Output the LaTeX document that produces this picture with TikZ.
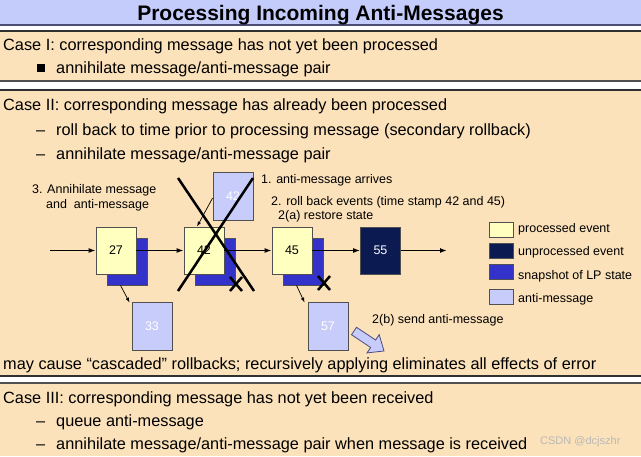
\documentclass[tikz,border=0pt]{standalone}
\usepackage{fontspec}
\setmainfont{Liberation Sans}
\usetikzlibrary{arrows.meta,calc}
\definecolor{titleblue}{HTML}{C4CCFC}
\definecolor{peach}{HTML}{FCE2BA}
\definecolor{procy}{HTML}{FFFFC0}
\definecolor{snapb}{HTML}{3333CC}
\definecolor{unprocn}{HTML}{0C1A52}
\definecolor{antil}{HTML}{C8CCFA}
\definecolor{edge}{HTML}{505050}
\definecolor{rule}{HTML}{303030}
\definecolor{wmark}{HTML}{B8B8B8}
\begin{document}
\begin{tikzpicture}[x=1pt,y=-1pt,
  body/.style={anchor=base west,inner sep=0pt,font=\fontsize{16.3}{19}\selectfont},
  lbl/.style={anchor=base west,inner sep=0pt,font=\fontsize{12.5}{15}\selectfont},
  evbox/.style={draw=edge,line width=0.8pt,minimum width=40pt,minimum height=47pt,inner sep=0pt,font=\fontsize{12.5}{15}\selectfont},
  processed/.style={evbox,fill=procy},
  snapshot/.style={evbox,fill=snapb},
  unprocessed/.style={evbox,fill=unprocn,text=white},
  antimsg/.style={evbox,fill=antil,text=white,minimum height=48pt},
  flow/.style={line width=1.4pt,-{Latex[length=7pt,width=5pt]}},
  thinarrow/.style={line width=0.7pt,-{Latex[length=5pt,width=3.5pt]}},
  xline/.style={line width=2.5pt},
  legbox/.style={draw=edge,line width=0.8pt,minimum width=24pt,minimum height=15pt,inner sep=0pt},
  bandrule/.style={draw=rule,line width=1.1pt},
]
\useasboundingbox (0,0) rectangle (641,456);
% backgrounds
\fill[white] (0,0) rectangle (641,456);
\fill[titleblue] (0,0) rectangle (641,25);
\draw[bandrule,draw=black!60!blue!40!gray] (0,25) -- (641,25);
\fill[peach] (0,31) rectangle (641,81);
\draw[bandrule] (0,31) -- (641,31);
\draw[bandrule,draw=edge] (0,81) -- (641,81);
\fill[peach] (0,90) rectangle (641,376);
\draw[bandrule] (0,90) -- (641,90);
\draw[bandrule] (0,376) -- (641,376);
\fill[peach] (0,383) rectangle (641,456);
\draw[bandrule,draw=edge] (0,383) -- (641,383);

% title
\node[anchor=base,inner sep=0pt,font=\fontsize{21}{24}\selectfont\bfseries] (title) at (320.5,20) {Processing Incoming Anti-Messages};

% Case I
\node[body] (c1) at (3,50) {Case I: corresponding message has not yet been processed};
\node[fill=black,minimum width=8pt,minimum height=8pt,inner sep=0pt] (bul1) at (41,67.5) {};
\node[body] (c1a) at (56,73) {annihilate message/anti-message pair};

% Case II
\node[body] (c2) at (3,110) {Case II: corresponding message has already been processed};
\node[body] (d2a) at (36,135) {–};
\node[body] (c2a) at (56,135) {roll back to time prior to processing message (secondary rollback)};
\node[body] (d2b) at (36,159) {–};
\node[body] (c2b) at (56,159) {annihilate message/anti-message pair};
\node[body] (casc) at (3,369.5) {may cause “cascaded” rollbacks; recursively applying eliminates all effects of error};

% Case III
\node[body] (c3) at (3,403.5) {Case III: corresponding message has not yet been received};
\node[body] (d3a) at (36,426.5) {–};
\node[body] (c3a) at (56,426.5) {queue anti-message};
\node[body] (d3b) at (36,449.5) {–};
\node[body] (c3b) at (56,449.5) {annihilate message/anti-message pair when message is received};
\node[anchor=base west,inner sep=0pt,text=wmark,font=\fontsize{11}{13}\selectfont] (wm) at (540,444) {CSDN @dcjszhr};

% diagram: snapshots
\node[snapshot] (s27) at (127.5,261.5) {};
\node[snapshot] (s42) at (215.5,261.5) {};
\node[snapshot] (s45) at (303.5,261.5) {};
% events
\node[processed] (p27) at (116,250.5) {27};
\node[processed] (p42) at (204,250.5) {42};
\node[processed] (p45) at (292,250.5) {45};
\node[unprocessed] (u55) at (380.5,250.5) {55};
% anti-messages
\node[antimsg] (a42) at (233,196) {42};
\node[antimsg] (a33) at (152,326) {33};
\node[antimsg] (a57) at (328,326) {57};

% flow arrows
\coordinate (in) at (50,250.5);
\coordinate (out) at (447,250.5);
\draw[flow] (in) -- (p27.west);
\draw[flow] (p27.east) -- (p42.west);
\draw[flow] (p42.east) -- (p45.west);
\draw[flow] (p45.east) -- (u55.west);
\draw[flow] (u55.east) -- (out);
\draw[thinarrow] ([yshift=-2pt]a42.west) -- ([xshift=-7pt]p42.north);
\draw[thinarrow] ([xshift=-7pt]s27.south) -- ([xshift=-2pt,yshift=-1pt]a33.north west);
\draw[thinarrow] ([xshift=-7pt]s45.south) -- ([xshift=-3pt,yshift=-1pt]a57.north west);

% crosses
\draw[xline] (178,178) -- (254,291);
\draw[xline] (253,178) -- (178,291);
\draw[xline] (230,277) -- (242,291);
\draw[xline] (242,277) -- (230,291);
\draw[xline] (318,276) -- (330,290);
\draw[xline] (330,276) -- (318,290);

% block arrow
\draw[fill=antil,draw=black!50!blue!40!gray,line width=0.8pt]
  (356.5,327.3) -- (375.6,340.0) -- (379.2,334.6) -- (384,351) -- (367,352.9) -- (370.6,347.5) -- (351.5,334.7) -- cycle;

% labels
\node[lbl] (l1) at (261,183.5) {1. anti-message arrives};
\node[lbl] (l2) at (271,205) {2. roll back events (time stamp 42 and 45)};
\node[lbl] (l2a) at (278,219.5) {2(a) restore state};
\node[lbl] (l3a) at (32,193.5) {3. Annihilate message};
\node[lbl] (l3b) at (46,208.5) {and\ \ anti-message};
\node[lbl] (l2b) at (372,323.5) {2(b) send anti-message};

% legend
\node[legbox,fill=procy] (k1) at (501,229.5) {};
\node[legbox,fill=unprocn] (k2) at (501,250.5) {};
\node[legbox,fill=snapb] (k3) at (501,272) {};
\node[legbox,fill=antil] (k4) at (501,296.5) {};
\node[lbl] (t1) at (518,232.5) {processed event};
\node[lbl] (t2) at (518,255.5) {unprocessed event};
\node[lbl] (t3) at (518,279.5) {snapshot of LP state};
\node[lbl] (t4) at (518,302.5) {anti-message};
\end{tikzpicture}
\end{document}
